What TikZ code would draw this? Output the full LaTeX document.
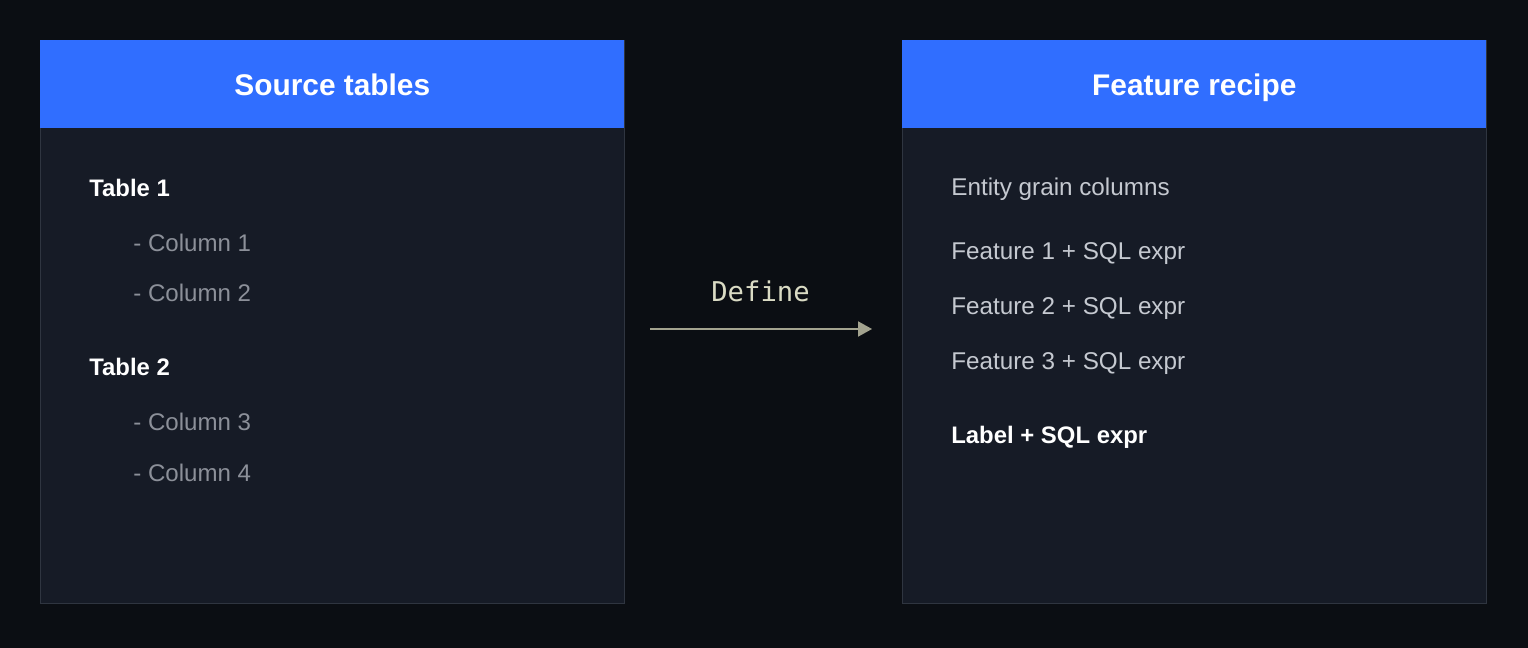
\documentclass[tikz,border=0pt]{standalone}
\usepackage{fontspec}
\setmainfont{Liberation Sans}
\setmonofont{DejaVu Sans Mono}
\usetikzlibrary{arrows.meta}
\definecolor{bg}{HTML}{0B0E13}
\definecolor{panel}{HTML}{161B26}
\definecolor{edge}{HTML}{2F3540}
\definecolor{head}{HTML}{306EFF}
\definecolor{col}{HTML}{8C9099}
\definecolor{feat}{HTML}{C5C9D0}
\definecolor{defn}{HTML}{DADBC4}
\definecolor{arr}{HTML}{A3A38F}
\begin{document}
\begin{tikzpicture}[
x=0.02cm,
y=-0.02cm
]

\tikzstyle{box} = [draw=edge, line width=0.5pt, fill=panel, shape=rectangle, anchor=north west, minimum width=11.68cm, minimum height=11.26cm, inner sep=0pt]
\tikzstyle{hd} = [fill=head, shape=rectangle, anchor=north west, minimum width=11.68cm, minimum height=1.76cm, inner sep=0pt, text depth=0pt, text=white, font=\fontsize{17}{20}\selectfont\bfseries]
\tikzstyle{tbl} = [anchor=base west, inner sep=0pt, text=white, font=\fontsize{13.6}{16}\selectfont\bfseries]
\tikzstyle{colm} = [anchor=base west, inner sep=0pt, text=col, font=\fontsize{13.7}{16}\selectfont]
\tikzstyle{ft} = [anchor=base west, inner sep=0pt, text=feat, font=\fontsize{13.8}{16}\selectfont]

\fill[bg] (0,0) rectangle (1528,648);

% left panel
\node[box] (src) at (40,40) {};
\node[hd] (srchd) at (40,40) {Source tables};
\node[tbl] (t1) at (89,197) {Table 1};
\node[colm] (c1) at (133,251.5) {- Column 1};
\node[colm] (c2) at (133,302) {- Column 2};
\node[tbl] (t2) at (89,376) {Table 2};
\node[colm] (c3) at (133,431) {- Column 3};
\node[colm] (c4) at (133,481.5) {- Column 4};

% right panel
\node[box] (rec) at (902,40) {};
\node[hd] (rechd) at (902,40) {Feature recipe};
\node[ft] (ent) at (951,196) {Entity grain columns};
\node[ft] (f1) at (951,260) {Feature 1 + SQL expr};
\node[ft] (f2) at (951,315) {Feature 2 + SQL expr};
\node[ft] (f3) at (951,370) {Feature 3 + SQL expr};
\node[tbl] (lbl) at (951,443) {Label + SQL expr};

% arrow
\coordinate (from) at (650,329);
\coordinate (to) at (872,329);
\draw[arr, line width=1.1pt, -{Triangle[length=0.28cm,width=0.3cm]}] (from) -- (to);
\node[anchor=base, inner sep=0pt, text=defn, font=\fontsize{15.5}{18}\selectfont\ttfamily] (def) at (760.5,302) {Define};
\end{tikzpicture}
\end{document}
